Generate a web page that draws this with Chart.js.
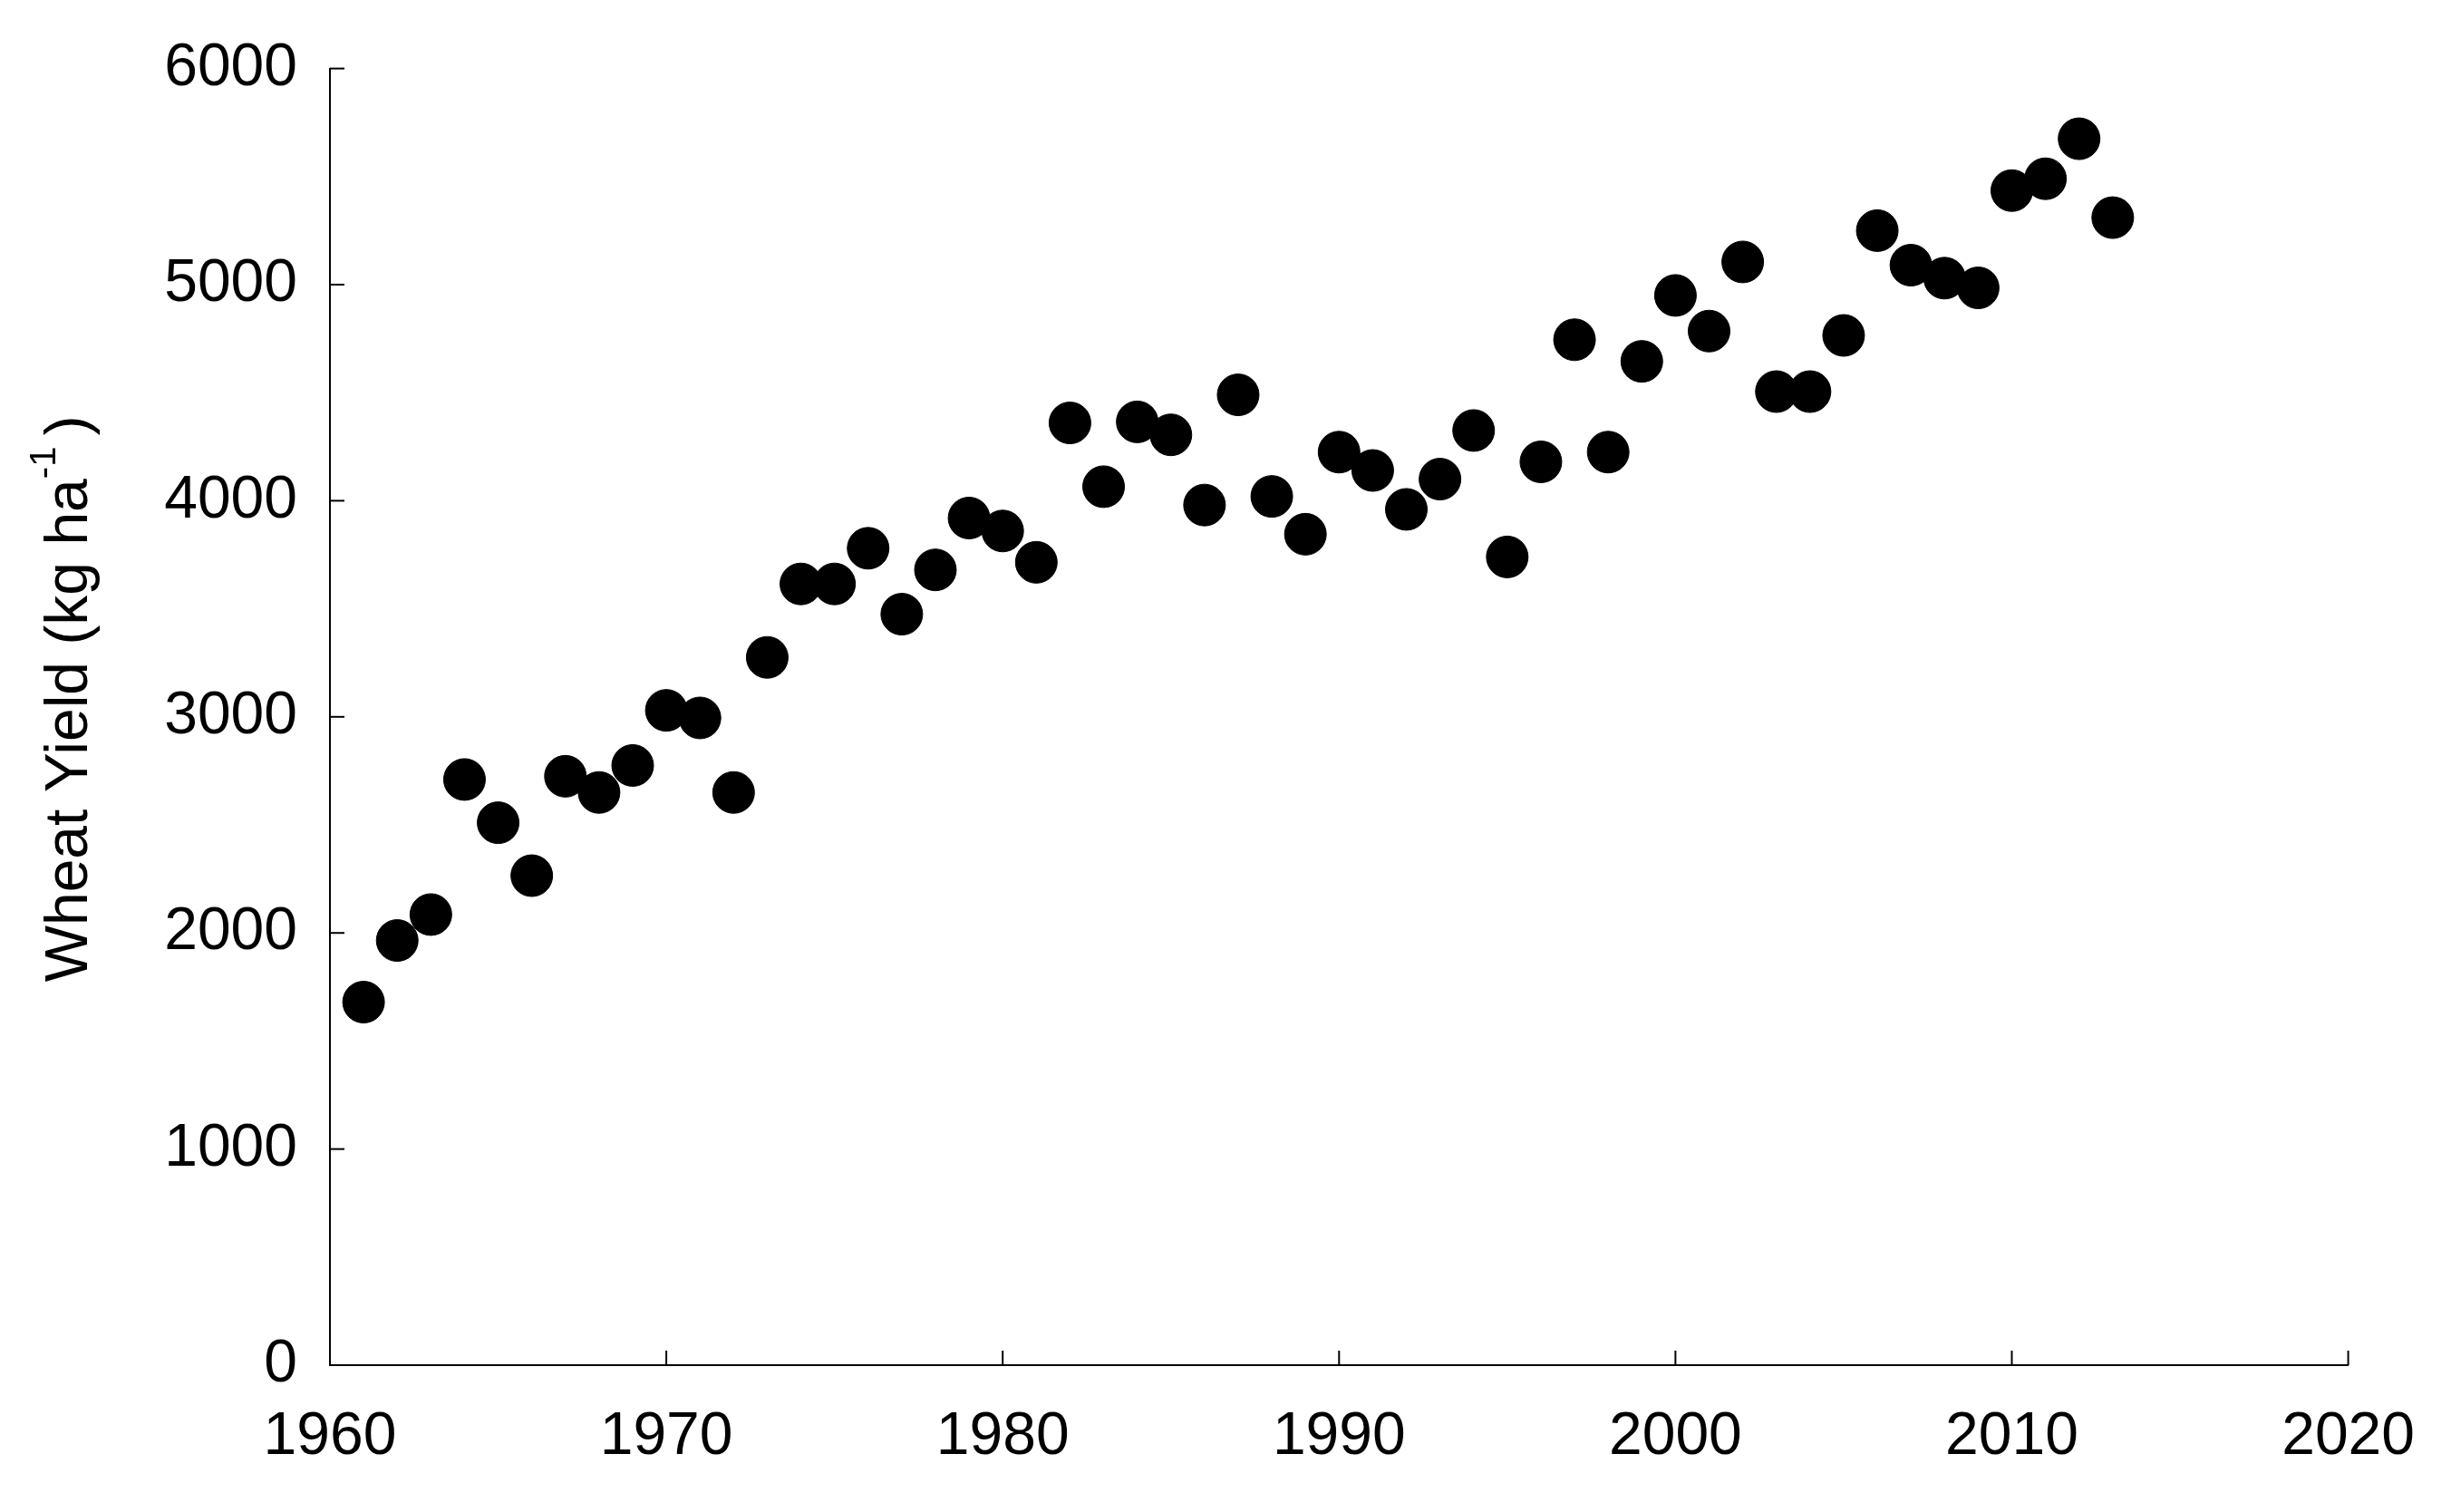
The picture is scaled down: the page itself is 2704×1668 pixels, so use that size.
<!DOCTYPE html>
<html>
<head>
<meta charset="utf-8">
<script src="https://cdn.jsdelivr.net/npm/chart.js@4"></script>
<style>
  html, body { margin: 0; padding: 0; background: #fff; }
  #wrap { width: 2704px; height: 1668px; }
</style>
</head>
<body>
<div id="wrap"><canvas id="c" width="2704" height="1668"></canvas></div>
<script>
// années et rendements (kg/ha)
const years = [1961,1962,1963,1964,1965,1966,1967,1968,1969,1970,1971,1972,1973,1974,1975,1976,1977,1978,1979,1980,
  1981,1982,1983,1984,1985,1986,1987,1988,1989,1990,1991,1992,1993,1994,1995,1996,1997,1998,1999,2000,
  2001,2002,2003,2004,2005,2006,2007,2008,2009,2010,2011,2012,2013];
const yields = [1680,1965,2085,2710,2510,2265,2725,2650,2775,3030,2995,2650,3275,3615,3615,3780,3475,3680,3920,3860,
  3715,4360,4065,4365,4305,3980,4490,4020,3845,4225,4140,3960,4100,4325,3740,4180,4745,4225,4645,4950,
  4785,5105,4505,4505,4765,5250,5090,5030,4985,5435,5490,5675,5310];
const xTicks = [1960,1970,1980,1990,2000,2010,2020];
const yTicks = [0,1000,2000,3000,4000,5000,6000];

const font = 'Liberation Sans, Arial, sans-serif';

// petits traits de graduation vers l'intérieur + titre de l'axe Y avec exposant
const extras = {
  id: 'extras',
  afterDraw: (chart) => {
    const { ctx, scales: { x, y } } = chart;
    ctx.save();
    ctx.strokeStyle = '#000';
    ctx.lineWidth = 2;
    xTicks.forEach(v => {
      const px = x.getPixelForValue(v);
      ctx.beginPath(); ctx.moveTo(px, y.bottom); ctx.lineTo(px, y.bottom - 16); ctx.stroke();
    });
    yTicks.forEach(v => {
      const py = y.getPixelForValue(v);
      ctx.beginPath(); ctx.moveTo(x.left, py); ctx.lineTo(x.left + 16, py); ctx.stroke();
    });
    ctx.translate(78, 771);
    ctx.rotate(-Math.PI / 2);
    ctx.fillStyle = '#000';
    ctx.textBaseline = 'middle';
    const a = 'Wheat Yield (kg ha';
    ctx.font = '66px ' + font;
    const wa = ctx.measureText(a).width;
    ctx.font = '40px ' + font;
    const ws = ctx.measureText('-1').width;
    ctx.font = '66px ' + font;
    const wb = ctx.measureText(')').width;
    let sx = -(wa + ws + wb + 12) / 2;
    ctx.fillText(a, sx, 0);
    ctx.font = '40px ' + font;
    ctx.fillText('-1', sx + wa, -28);
    ctx.font = '66px ' + font;
    ctx.fillText(')', sx + wa + ws + 12, 0);
    ctx.restore();
  }
};

new Chart(document.getElementById('c'), {
  type: 'scatter',
  data: {
    datasets: [{
      data: years.map((yr, i) => ({ x: yr, y: yields[i] })),
      backgroundColor: '#000',
      borderColor: '#000',
      pointRadius: 23,
      pointHoverRadius: 23
    }]
  },
  options: {
    responsive: false,
    animation: false,
    layout: { padding: { top: 18, right: 104, left: 0, bottom: 0 } },
    plugins: { legend: { display: false }, tooltip: { enabled: false } },
    scales: {
      x: {
        type: 'linear', min: 1960, max: 2020,
        afterBuildTicks: s => { s.ticks = xTicks.map(v => ({ value: v })); },
        afterFit: s => { s.height = 162; },
        grid: { display: false, drawTicks: false },
        border: { color: '#000', width: 2 },
        ticks: { color: '#000', font: { family: font, size: 66 }, padding: 40, callback: v => String(v) }
      },
      y: {
        min: 0, max: 6000,
        afterBuildTicks: s => { s.ticks = yTicks.map(v => ({ value: v })); },
        afterFit: s => { s.width = 364; },
        grid: { display: false, drawTicks: false },
        border: { color: '#000', width: 2 },
        ticks: { color: '#000', font: { family: font, size: 66 }, padding: 36, callback: v => String(v) }
      }
    }
  },
  plugins: [extras]
});
</script>
</body>
</html>
